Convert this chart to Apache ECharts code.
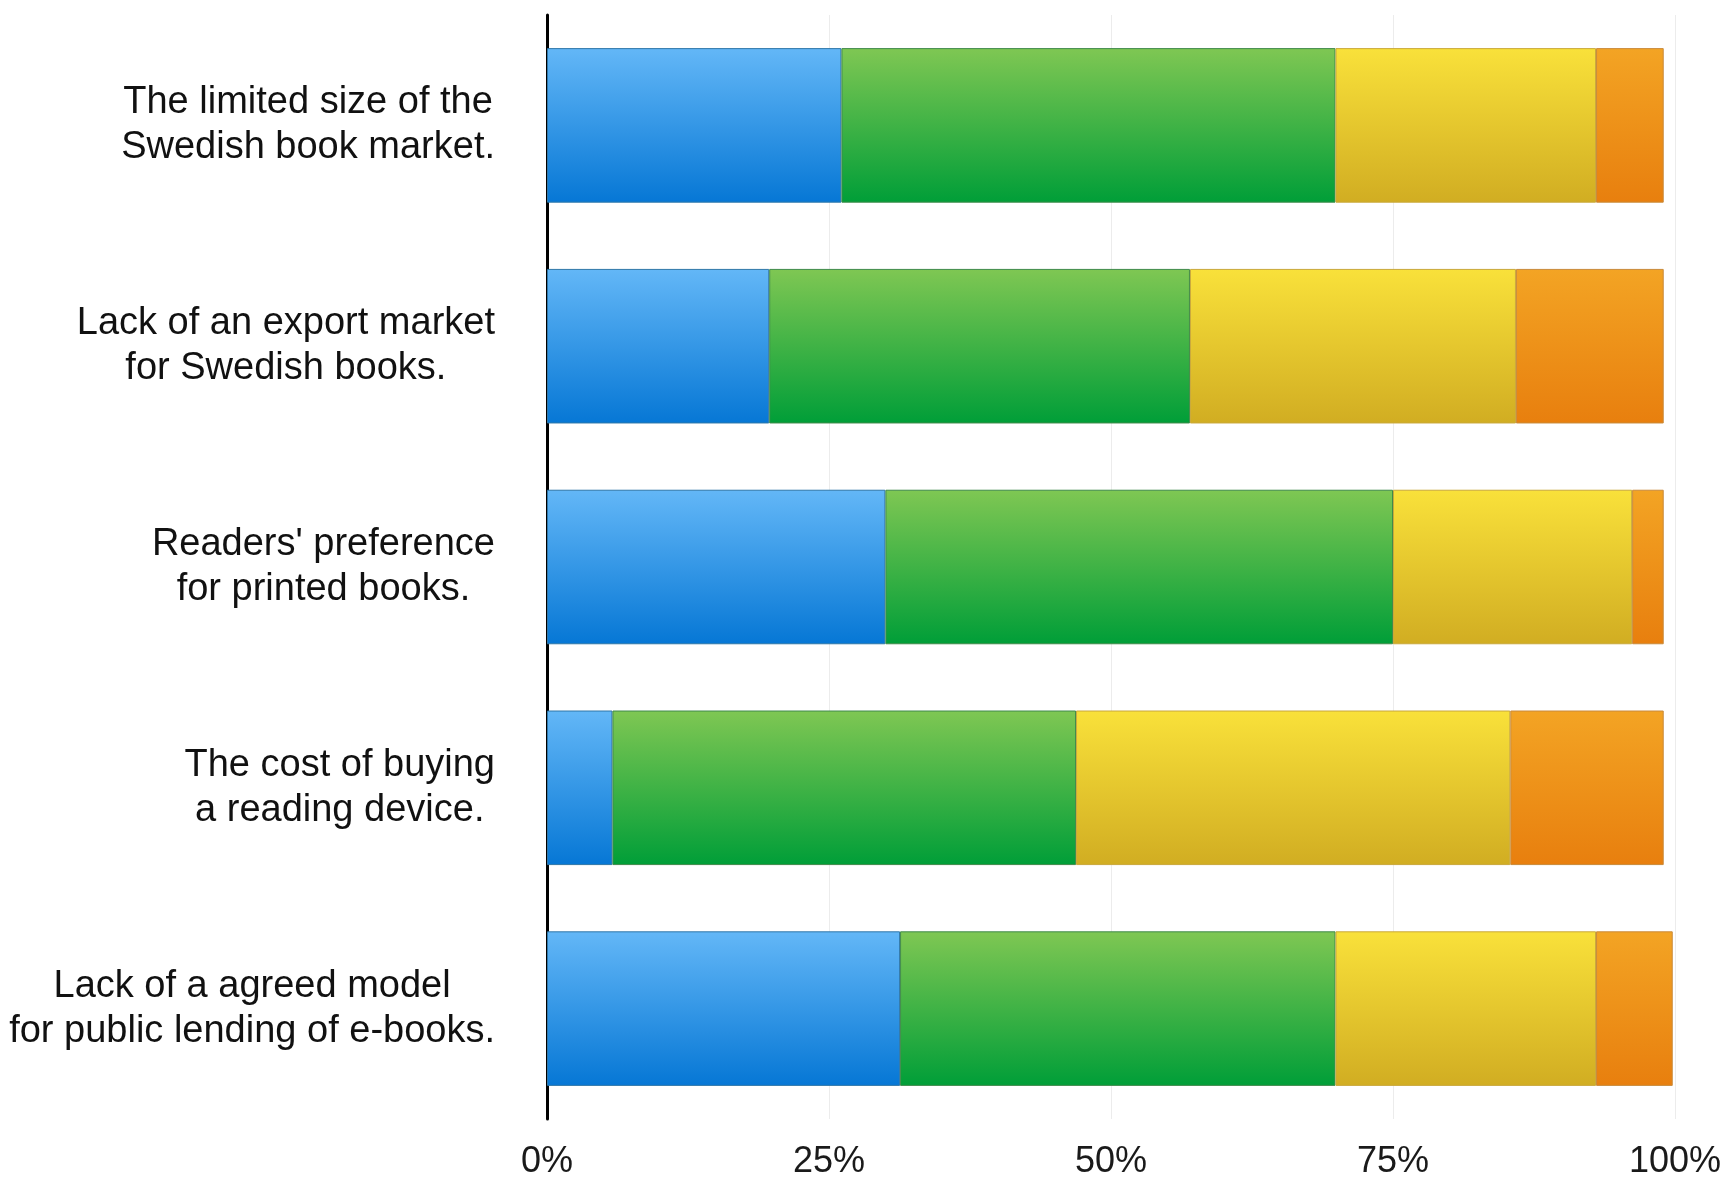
<!DOCTYPE html>
<html>
<head>
<meta charset="utf-8">
<script src="https://cdn.jsdelivr.net/npm/echarts@6/dist/echarts.min.js"></script>
<style>
  html, body { margin: 0; padding: 0; background: #ffffff; }
  #chart { width: 1731px; height: 1191px; }
</style>
</head>
<body>
<div id="chart"></div>
<script>
// Categories (top to bottom)
const categories = [
  "The limited size of the\nSwedish book market.",
  "Lack of an export market\nfor Swedish books.",
  "Readers' preference\nfor printed books.",
  "The cost of buying\na reading device.",
  "Lack of a agreed model\nfor public lending of e-books."
];

// Segment values (percent)
const seriesBlue   = [26.1, 19.7, 30.0, 5.8, 31.3];
const seriesGreen  = [43.8, 37.3, 45.0, 41.1, 38.6];
const seriesYellow = [23.1, 28.9, 21.2, 38.5, 23.1];
const seriesOrange = [6.0, 13.1, 2.8, 13.6, 6.8];

const xTicks = [0, 25, 50, 75, 100];

function grad(top, bottom) {
  return new echarts.graphic.LinearGradient(0, 0, 0, 1, [
    { offset: 0, color: top },
    { offset: 1, color: bottom }
  ]);
}

const palette = [
  { name: "Blue",   data: seriesBlue,   top: "#63b7f7", bottom: "#0677d5", border: "#2f77a8" },
  { name: "Green",  data: seriesGreen,  top: "#7fc753", bottom: "#009e38", border: "#3f8a4a" },
  { name: "Yellow", data: seriesYellow, top: "#f9e13a", bottom: "#d1ad22", border: "#c9a83a" },
  { name: "Orange", data: seriesOrange, top: "#f3a424", bottom: "#e87f0e", border: "#c98a3a" }
];

const chart = echarts.init(document.getElementById('chart'), null, { renderer: 'canvas' });

chart.setOption({
  backgroundColor: '#ffffff',
  animation: false,
  grid: { left: 547, right: 56, top: 15, bottom: 72, containLabel: false },
  xAxis: {
    type: 'value',
    min: 0,
    max: 100,
    interval: 25,
    axisLine: { show: false },
    axisTick: { show: false },
    splitLine: { show: true, lineStyle: { color: '#ececec', width: 1 } },
    axisLabel: {
      margin: 25,
      fontFamily: 'Liberation Sans, Arial, sans-serif',
      fontSize: 36,
      color: '#1a1a1a',
      formatter: function (v) { return xTicks.indexOf(v) >= 0 ? v + '%' : ''; }
    }
  },
  yAxis: {
    type: 'category',
    data: categories,
    inverse: true,
    axisLine: { show: true, lineStyle: { color: '#000000', width: 3 } },
    axisTick: { show: false },
    splitLine: { show: false },
    axisLabel: {
      margin: 52,
      align: 'right',
      formatter: function (v) {
        return v.split('\n').map(function (l) { return '{c|' + l + '}'; }).join('\n');
      },
      rich: {
        c: {
          align: 'center',
          fontFamily: 'Liberation Sans, Arial, sans-serif',
          fontSize: 38,
          lineHeight: 45,
          color: '#111111'
        }
      }
    }
  },
  series: palette.map(function (p) {
    return {
      name: p.name,
      type: 'bar',
      stack: 'total',
      barCategoryGap: '30%',
      data: p.data,
      itemStyle: {
        color: grad(p.top, p.bottom),
        borderColor: p.border,
        borderWidth: 1
      },
      emphasis: { disabled: true }
    };
  })
});
</script>
</body>
</html>
